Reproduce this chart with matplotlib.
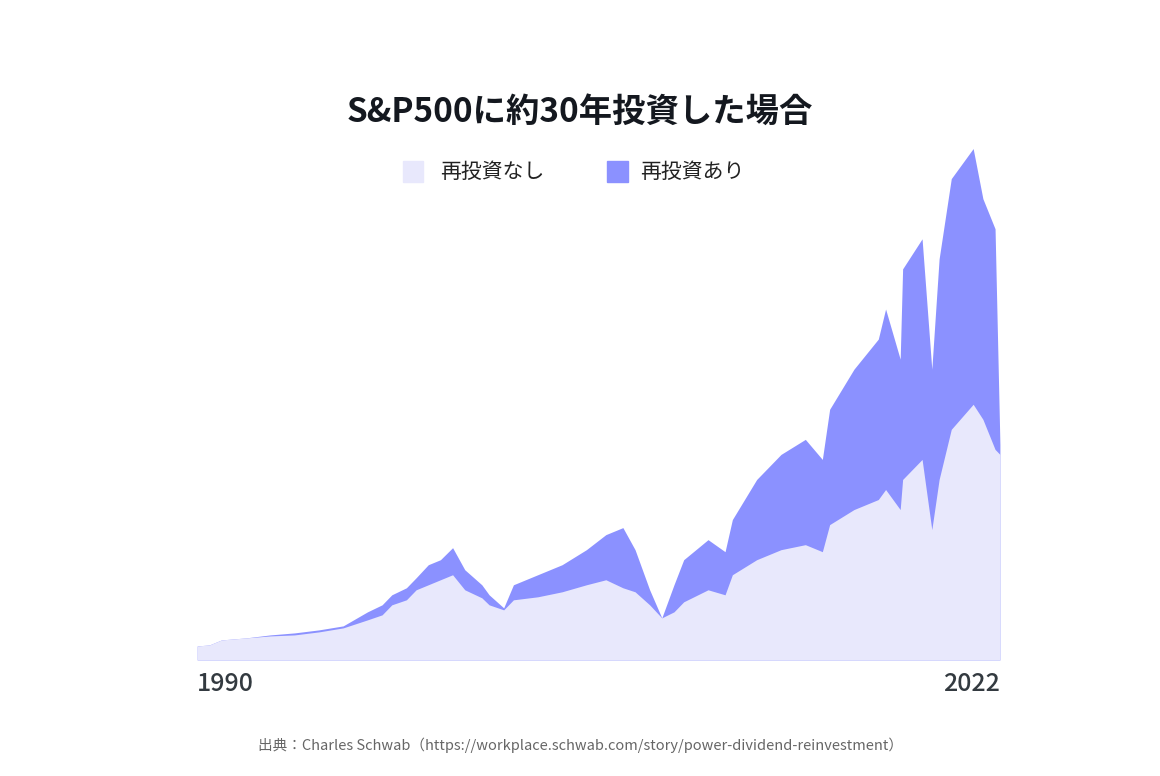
import matplotlib.pyplot as plt
from matplotlib.patches import Rectangle

plt.rcParams['font.family'] = 'Noto Sans CJK JP'

# values (arbitrary units)
years = [1990.0, 1990.5, 1991.0, 1992.0, 1993.0, 1994.0, 1995.0, 1996.0, 1997.0, 1997.6,
         1998.0, 1998.6, 1999.0, 1999.5, 2000.0, 2000.5, 2001.0, 2001.7, 2002.0, 2002.6,
         2003.0, 2004.0, 2005.0, 2006.0, 2006.8, 2007.5, 2008.0, 2008.6, 2009.1, 2009.6,
         2010.0, 2011.0, 2011.7, 2012.0, 2013.0, 2014.0, 2015.0, 2015.7, 2016.0, 2017.0,
         2018.0, 2018.3, 2018.9, 2019.0, 2019.8, 2020.2, 2020.5, 2021.0, 2021.9, 2022.3,
         2022.8, 2023.0]
no_reinvest = [14, 15, 20, 22, 24, 25, 28, 32, 40, 45,
               55, 60, 70, 75, 80, 85, 70, 62, 55, 50,
               60, 63, 68, 75, 80, 72, 68, 55, 42, 48,
               58, 70, 65, 85, 100, 110, 115, 108, 135, 150,
               160, 170, 150, 180, 200, 130, 180, 230, 255, 240,
               210, 205]
reinvest = [14, 15, 20, 22, 25, 27, 30, 34, 48, 55,
            65, 72, 82, 95, 100, 112, 90, 75, 65, 52,
            75, 85, 95, 110, 125, 132, 110, 70, 42, 75,
            100, 120, 108, 140, 180, 205, 220, 200, 250, 290,
            320, 350, 300, 390, 420, 290, 400, 480, 510, 460,
            430, 215]

fig = plt.figure(figsize=(11.6, 7.76), dpi=100)
ax = fig.add_axes([0.17, 0.1495, 0.692, 0.672])
ax.fill_between(years, 0, reinvest, color='#8B91FF', linewidth=0)
ax.fill_between(years, 0, no_reinvest, color='#E8E8FC', linewidth=0)
ax.set_xlim(1990, 2023)
ax.set_ylim(0, 520)
ax.axis('off')

fig.text(0.5, 0.855, 'S&P500に約30年投資した場合', ha='center', va='center',
         fontsize=24, fontweight='bold', color='#14181f')

# legend
fig.patches.append(Rectangle((0.347, 0.766), 0.018, 0.026, transform=fig.transFigure, color='#E8E8FC'))
fig.text(0.379, 0.778, '再投資なし', va='center', fontsize=15, color='#222222')
fig.patches.append(Rectangle((0.523, 0.766), 0.018, 0.026, transform=fig.transFigure, color='#8B91FF'))
fig.text(0.552, 0.778, '再投資あり', va='center', fontsize=15, color='#222222')

fig.text(0.17, 0.118, '1990', ha='left', va='center', fontsize=18, fontweight='medium', color='#333a40')
fig.text(0.862, 0.118, '2022', ha='right', va='center', fontsize=18, fontweight='medium', color='#333a40')

fig.text(0.5, 0.04, '出典：Charles Schwab（https://workplace.schwab.com/story/power-dividend-reinvestment）',
         ha='center', va='center', fontsize=10.5, color='#666666')

fig.savefig('out.png', dpi=100)
